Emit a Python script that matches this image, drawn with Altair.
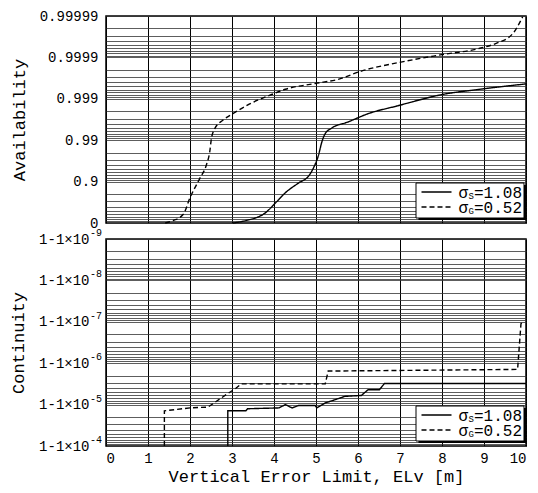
import altair as alt
import numpy as np
import pandas as pd

FONT = "Liberation Mono"

# ---- data (x in m, y in "nines": -log10(1-P)) ----
x_ticks = list(range(0, 11))
avail_labels = ["0", "0.9", "0.99", "0.999", "0.9999", "0.99999"]
cont_exps = [4, 5, 6, 7, 8, 9]

avail_g_x = [1.41, 1.60, 1.84, 2.0, 2.24, 2.39, 2.47, 2.51, 2.59, 2.78, 3.02, 3.41, 3.96, 4.27,
             4.98, 5.53, 6.08, 6.94, 7.96, 8.90, 9.29, 9.69, 9.92]
avail_g_y = [0.0, 0.06, 0.21, 0.61, 1.09, 1.40, 1.72, 2.04, 2.28, 2.48, 2.64, 2.87, 3.11, 3.23,
             3.37, 3.47, 3.67, 3.87, 4.06, 4.22, 4.34, 4.58, 4.98]

avail_s_x = [3.02, 3.33, 3.80, 4.04, 4.27, 4.59, 4.82, 4.94, 5.06, 5.14, 5.22, 5.37, 5.76,
             6.24, 6.94, 8.04, 8.90, 10.0]
avail_s_y = [0.0, 0.06, 0.25, 0.49, 0.73, 0.97, 1.13, 1.33, 1.64, 1.96, 2.16, 2.29, 2.44,
             2.64, 2.83, 3.11, 3.23, 3.36]

cont_g_x = [1.39, 1.39, 2.0, 2.43, 2.63, 2.86, 3.10, 3.22, 5.22, 5.29, 9.80, 9.88, 9.92]
cont_g_y = [4.0, 4.85, 4.92, 4.94, 5.08, 5.24, 5.40, 5.50, 5.50, 5.81, 5.85, 6.95, 7.0]

cont_s_x = [2.90, 2.90, 3.33, 3.37, 4.12, 4.27, 4.43, 4.59, 4.98, 5.02, 5.22, 5.37, 5.69,
            6.08, 6.24, 6.51, 6.63, 10.0]
cont_s_y = [4.0, 4.85, 4.85, 4.90, 4.92, 5.0, 4.92, 4.98, 4.98, 4.92, 5.04, 5.09, 5.20,
            5.22, 5.36, 5.36, 5.51, 5.51]

legend_labels = [("S", "=1.08"), ("G", "=0.52")]


def frame(xs_s, ys_s, xs_g, ys_g):
    rows = []
    for i, (a, b) in enumerate(zip(xs_s, ys_s)):
        rows.append({"x": a, "y": b, "s": "S", "i": i})
    for i, (a, b) in enumerate(zip(xs_g, ys_g)):
        rows.append({"x": a, "y": b, "s": "G", "i": i})
    return pd.DataFrame(rows)


def grid_values(lo, hi):
    v = [float(lo)]
    for k in range(lo, hi):
        for m in range(1, 10):
            v.append(round(k + 1 - float(np.log10(m)), 6))
    return sorted(set(v))


W, H1, H2 = 420, 207, 207

xscale = alt.Scale(domain=[0, 10], nice=False, zero=False)
dash = alt.StrokeDash("s:N", scale=alt.Scale(domain=["S", "G"], range=[[1, 0], [5, 3]]), legend=None)


def one():
    return alt.Chart(pd.DataFrame({"a": [0]}))


def legend_layers(top, left=310):
    L = []
    L.append(one().mark_rect(color="black").encode(
        x=alt.value(left + 2.5), x2=alt.value(left + 110.5), y=alt.value(top + 2), y2=alt.value(top + 37)))
    L.append(one().mark_rect(fill="white", stroke="black", strokeWidth=1).encode(
        x=alt.value(left), x2=alt.value(left + 108), y=alt.value(top), y2=alt.value(top + 35)))
    for r, (sub, val) in enumerate(legend_labels):
        yy = top + 9 + r * 15
        L.append(one().mark_rule(
            color="black", strokeWidth=1.3, strokeDash=[1, 0] if r == 0 else [5, 3]).encode(
            x=alt.value(left + 5.5), x2=alt.value(left + 35.5), y=alt.value(yy)))
        L.append(one().mark_text(
            text="σ", font=FONT, fontSize=16, align="left", baseline="middle", color="black").encode(
            x=alt.value(left + 42.5), y=alt.value(yy + 1)))
        L.append(one().mark_text(
            text=sub, font=FONT, fontSize=9, align="left", baseline="middle", color="black").encode(
            x=alt.value(left + 52.5), y=alt.value(yy + 4)))
        L.append(one().mark_text(
            text=val, font=FONT, fontSize=16, align="left", baseline="middle", color="black").encode(
            x=alt.value(left + 58), y=alt.value(yy + 1)))
    return L


# ---- top panel: Availability ----
df_a = frame(avail_s_x, avail_s_y, avail_g_x, avail_g_y)
avail_expr = ("abs(datum.value-round(datum.value))>0.0001 ? '' : "
              + "[" + ",".join("'%s'" % s for s in avail_labels) + "][round(datum.value)]")

top_lines = alt.Chart(df_a).mark_line(color="black", strokeWidth=1.4, interpolate="monotone").encode(
    x=alt.X("x:Q", scale=xscale,
            axis=alt.Axis(values=x_ticks, labels=False, ticks=False, domain=False, title=None,
                          grid=True, gridColor="black", gridWidth=1)),
    y=alt.Y("y:Q", scale=alt.Scale(domain=[0, 5], nice=False, zero=False),
            axis=alt.Axis(values=grid_values(0, 5), labelExpr=avail_expr, title="Availability",
                          ticks=False, domain=False, labelPadding=8, titlePadding=11,
                          grid=True, gridColor="#333", gridWidth=0.8)),
    strokeDash=dash,
    detail="s:N",
    order="i:Q",
)
top = alt.layer(top_lines, *legend_layers(H1 - 40)).properties(width=W, height=H1)

# ---- bottom panel: Continuity ----
df_c = frame(cont_s_x, cont_s_y, cont_g_x, cont_g_y)
cont_expr = "abs(datum.value-round(datum.value))>0.0001 ? '' : '1-1×10'"

yscale_c = alt.Scale(domain=[4, 9], nice=False, zero=False)
bot_lines = alt.Chart(df_c).mark_line(color="black", strokeWidth=1.4).encode(
    x=alt.X("x:Q", scale=xscale,
            axis=alt.Axis(values=x_ticks, ticks=False, domain=False, title="Vertical Error Limit, ELv [m]",
                          labelPadding=5, titlePadding=3,
                          grid=True, gridColor="black", gridWidth=1)),
    y=alt.Y("y:Q", scale=yscale_c,
            axis=alt.Axis(values=grid_values(4, 9), labelExpr=cont_expr, title="Continuity",
                          ticks=False, domain=False, labelPadding=17, titlePadding=11,
                          grid=True, gridColor="#333", gridWidth=0.8)),
    strokeDash=dash,
    detail="s:N",
    order="i:Q",
)
exp_df = pd.DataFrame({"y": cont_exps, "t": ["-%d" % e for e in cont_exps]})
exps = alt.Chart(exp_df).mark_text(font=FONT, fontSize=10, align="left", baseline="middle",
                                   color="black", dy=-6).encode(
    x=alt.value(-16), y=alt.Y("y:Q", scale=yscale_c, axis=None), text="t:N")

bottom = alt.layer(bot_lines, exps, *legend_layers(H2 - 40)).resolve_axis(y="independent").properties(
    width=W, height=H2)

chart = alt.vconcat(top, bottom, spacing=16, bounds="flush").properties(
    padding=0, background="white"
).configure_view(stroke="black", strokeWidth=1.5).configure_axis(
    labelFont=FONT, titleFont=FONT, labelFontSize=14, titleFontSize=17,
    titleFontWeight="normal", labelColor="black", titleColor="black", gridOpacity=1,
)

chart.save("out.html", embed_options={"renderer": "svg", "actions": False})
